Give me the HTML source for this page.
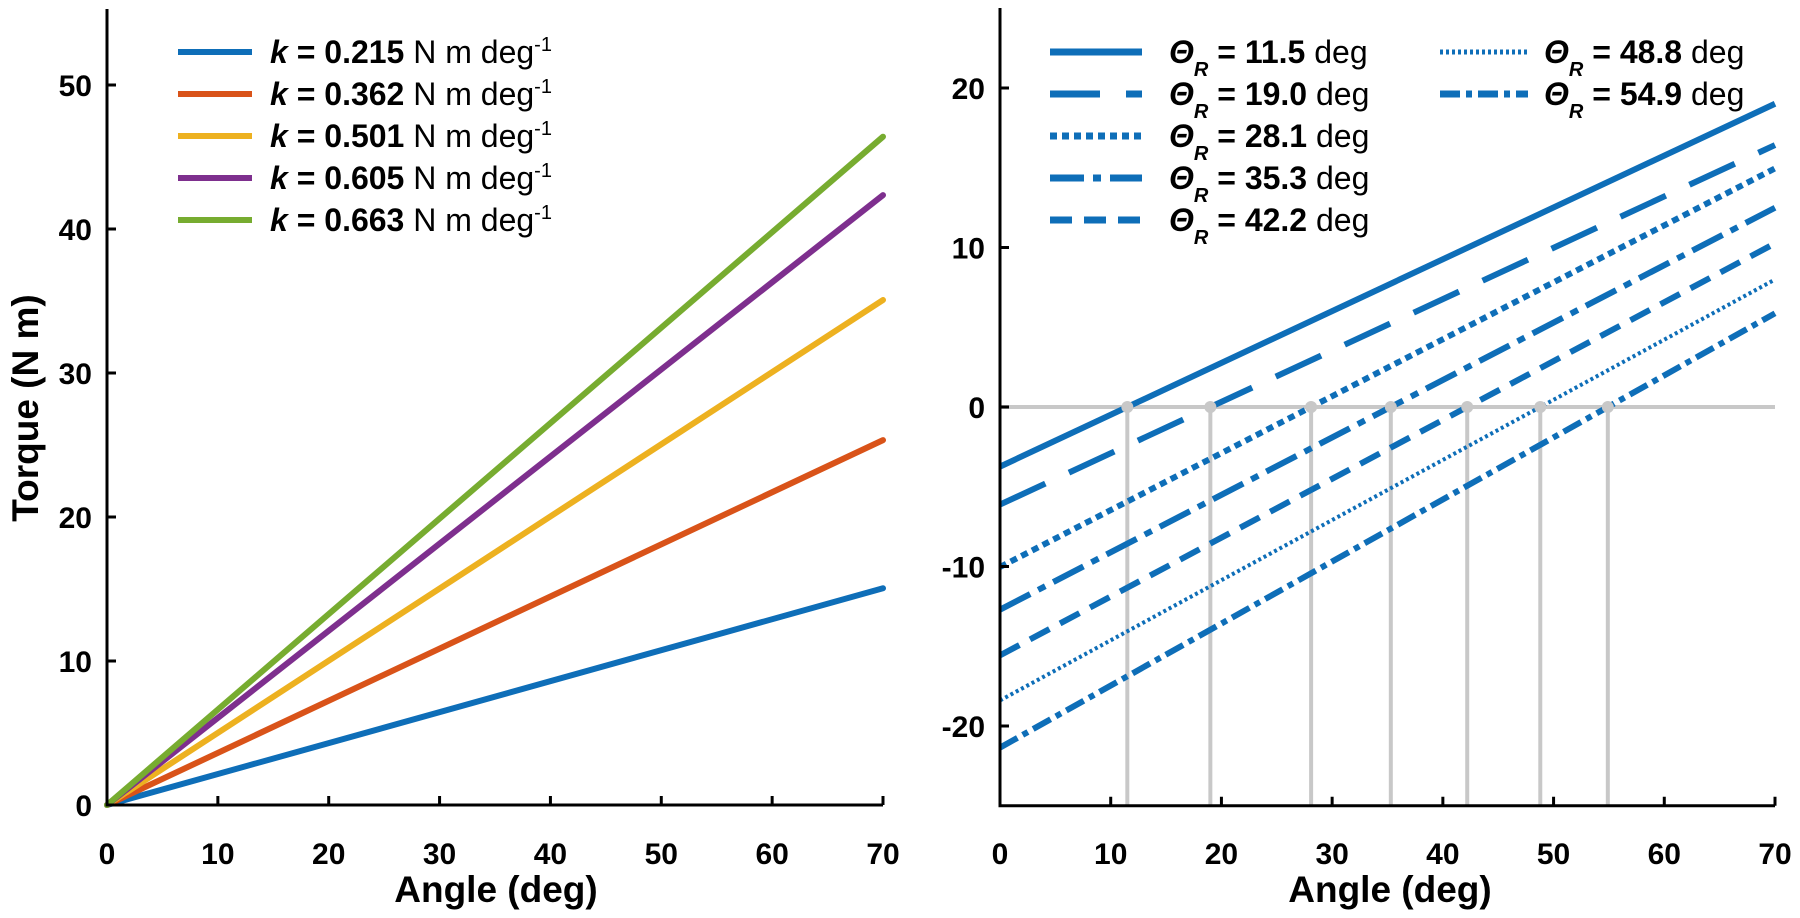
<!DOCTYPE html>
<html><head><meta charset="utf-8"><style>
body{margin:0;background:#fff;}
svg{display:block;font-family:"Liberation Sans",Arial,sans-serif;}
</style></head><body>
<svg id="chart" width="1800" height="918" viewBox="0 0 1800 918"></svg>
<script>
// Left panel data
const kValues = [0.215, 0.362, 0.501, 0.605, 0.663];
const kColors = ['#0e6eb8', '#d95319', '#edb120', '#7e2f8e', '#77ac30'];
const leftXTicks = [0, 10, 20, 30, 40, 50, 60, 70];
const leftYTicks = [0, 10, 20, 30, 40, 50];
// Right panel data
const thetaR = [11.5, 19.0, 28.1, 35.3, 42.2, 48.8, 54.9];
const rightSlope = [0.325, 0.322, 0.357, 0.36, 0.369, 0.377, 0.389];
const rightXTicks = [0, 10, 20, 30, 40, 50, 60, 70];
const rightYTicks = [20, 10, 0, -10, -20];

const NS = 'http://www.w3.org/2000/svg';
const svg = document.getElementById('chart');
function mk(tag, attrs, parent, text) {
  const e = document.createElementNS(NS, tag);
  for (const k in attrs) e.setAttribute(k, attrs[k]);
  if (text !== undefined) e.textContent = text;
  (parent || svg).appendChild(e);
  return e;
}
const Lx = v => 107 + v * (883 - 107) / 70;
const Ly = v => 805 - v * (805 - 85) / 50;
const Rx = v => 1000 + v * (1775 - 1000) / 70;
const Ry = v => 407 - v * 15.95;

// ----- Left panel -----
const gL = mk('g', {});


kValues.forEach((k, i) => {
  const l = mk('line', {x1: Lx(0), y1: Ly(0), x2: Lx(70), y2: Ly(k * 70), stroke: kColors[i], 'stroke-width': 6, 'stroke-linecap': 'round'}, gL);
  
  
});
const laxis = mk('path', {d: `M${Lx(0)},9 V${Ly(0)} H${Lx(70)}`, fill: 'none', stroke: '#000', 'stroke-width': 3}, gL);


leftXTicks.forEach(t => {
  mk('line', {x1: Lx(t), y1: Ly(0), x2: Lx(t), y2: Ly(0) - 9, stroke: '#000', 'stroke-width': 3}, gL);
  const tx = mk('text', {x: Lx(t), y: 864, 'text-anchor': 'middle', 'font-size': 30, 'font-weight': 'bold'}, gL, t);
  
  
});
leftYTicks.forEach(t => {
  mk('line', {x1: Lx(0), y1: Ly(t), x2: Lx(0) + 9, y2: Ly(t), stroke: '#000', 'stroke-width': 3}, gL);
  const tx = mk('text', {x: 92, y: Ly(t) + 11, 'text-anchor': 'end', 'font-size': 30, 'font-weight': 'bold'}, gL, t);
  
  
});
const lxt = mk('text', {x: 496, y: 902, 'text-anchor': 'middle', 'font-size': 37, 'font-weight': 'bold'}, gL, 'Angle (deg)');


const lyt = mk('text', {x: 0, y: 0, transform: 'translate(38,408) rotate(-90)', 'text-anchor': 'middle', 'font-size': 37, 'font-weight': 'bold'}, gL, 'Torque (N m)');


kValues.forEach((k, i) => {
  const y = 52 + i * 42;
  const g = mk('g', {}, gL);
  
  
  mk('line', {x1: 178, y1: y, x2: 252, y2: y, stroke: kColors[i], 'stroke-width': 6}, g);
  const t = mk('text', {x: 270, y: y + 11, 'font-size': 32}, g);
  mk('tspan', {'font-weight': 'bold', 'font-style': 'italic'}, t, 'k');
  mk('tspan', {'font-weight': 'bold'}, t, ' = ' + k.toFixed(3));
  mk('tspan', {}, t, ' N m deg');
  mk('tspan', {dy: -12, 'font-size': 20}, t, '-1');
});

// ----- Right panel -----
const dashes = ['none', '50 26', '7 5', '34 9 8 9', '22 12', '3 3', '20 6 6 6'];
const widths = [6, 6, 6, 6, 6, 4, 6];
const gR = mk('g', {});


const zl = mk('line', {x1: Rx(0), y1: Ry(0), x2: Rx(70), y2: Ry(0), stroke: '#c8c8c8', 'stroke-width': 4}, gR);


thetaR.forEach(th => {
  const v = mk('line', {x1: Rx(th), y1: Ry(0), x2: Rx(th), y2: Ry(-25), stroke: '#c8c8c8', 'stroke-width': 4}, gR);
  
  
});
thetaR.forEach((th, i) => {
  const s = rightSlope[i];
  const l = mk('line', {x1: Rx(0), y1: Ry(-s * th), x2: Rx(70), y2: Ry(s * (70 - th)), stroke: '#0e6eb8', 'stroke-width': widths[i], 'stroke-dasharray': dashes[i]}, gR);
  
  
});
thetaR.forEach(th => {
  const c = mk('circle', {cx: Rx(th), cy: Ry(0), r: 6, fill: '#c8c8c8'}, gR);
  
  
});
const raxis = mk('path', {d: `M${Rx(0)},8 V${Ry(-25)} H${Rx(70)}`, fill: 'none', stroke: '#000', 'stroke-width': 3}, gR);


rightXTicks.forEach(t => {
  mk('line', {x1: Rx(t), y1: Ry(-25), x2: Rx(t), y2: Ry(-25) - 9, stroke: '#000', 'stroke-width': 3}, gR);
  const tx = mk('text', {x: Rx(t), y: 864, 'text-anchor': 'middle', 'font-size': 30, 'font-weight': 'bold'}, gR, t);
  
  
});
rightYTicks.forEach(t => {
  mk('line', {x1: Rx(0), y1: Ry(t), x2: Rx(0) + 9, y2: Ry(t), stroke: '#000', 'stroke-width': 3}, gR);
  const tx = mk('text', {x: 985, y: Ry(t) + 11, 'text-anchor': 'end', 'font-size': 30, 'font-weight': 'bold'}, gR, t);
  
  
});
const rxt = mk('text', {x: 1390, y: 902, 'text-anchor': 'middle', 'font-size': 37, 'font-weight': 'bold'}, gR, 'Angle (deg)');


thetaR.forEach((th, i) => {
  const col = i < 5 ? 0 : 1;
  const row = i < 5 ? i : i - 5;
  const y = 52 + row * 42;
  const lx1 = col ? 1440 : 1050, lx2 = col ? 1528 : 1142, tx0 = col ? 1544 : 1169;
  const g = mk('g', {}, gR);
  
  
  mk('line', {x1: lx1, y1: y, x2: lx2, y2: y, stroke: '#0e6eb8', 'stroke-width': widths[i] + 1, 'stroke-dasharray': dashes[i]}, g);
  const t = mk('text', {x: tx0, y: y + 11, 'font-size': 32}, g);
  mk('tspan', {'font-weight': 'bold', 'font-style': 'italic'}, t, 'Θ');
  mk('tspan', {dy: 13, 'font-size': 20, 'font-style': 'italic', 'font-weight': 'bold'}, t, 'R');
  mk('tspan', {dy: -13, 'font-weight': 'bold'}, t, ' = ' + th.toFixed(1));
  mk('tspan', {}, t, ' deg');
});
</script>
</body></html>
